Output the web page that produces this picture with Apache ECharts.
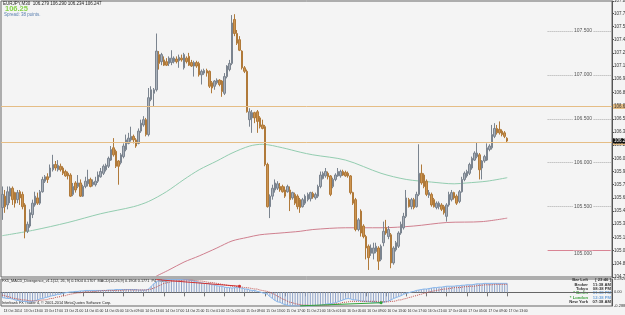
<!DOCTYPE html>
<html>
<head>
<meta charset="utf-8">
<script src="https://cdn.jsdelivr.net/npm/echarts@6/dist/echarts.min.js"></script>
<style>
html,body{margin:0;padding:0;background:#f4f4f4;}
#chart{width:625px;height:315px;}
</style>
</head>
<body>
<div id="chart"></div>
<script>
// M30 bars, one label every 8 bars
const dateLabels = ['13 Oct 2014','13 Oct 13:00','13 Oct 17:00','13 Oct 21:00','14 Oct 01:00','14 Oct 05:00',
  '14 Oct 09:00','14 Oct 13:00','14 Oct 17:00','14 Oct 21:00','15 Oct 01:00','15 Oct 05:00','15 Oct 09:00',
  '15 Oct 13:00','15 Oct 17:00','15 Oct 21:00','16 Oct 01:00','16 Oct 05:00','16 Oct 09:00','16 Oct 13:00',
  '16 Oct 17:00','16 Oct 21:00','17 Oct 01:00','17 Oct 05:00','17 Oct 09:00','17 Oct 13:00'];

// [open, close, low, high]
const candles = [
  [105.49,105.64,105.35,105.73],[105.62,105.50,105.43,105.69],[105.52,105.67,105.47,105.73],[105.62,105.71,105.54,105.73],[105.71,105.58,105.52,105.73],
  [105.66,105.54,105.49,105.67],[105.58,105.66,105.54,105.69],[105.67,105.60,105.52,105.69],[105.64,105.50,105.47,105.67],[105.52,105.22,105.14,105.54],
  [105.22,105.30,105.20,105.33],[105.28,105.43,105.26,105.47],[105.41,105.54,105.37,105.58],[105.52,105.62,105.50,105.67],[105.60,105.54,105.52,105.66],
  [105.54,105.67,105.52,105.69],[105.67,105.81,105.66,105.84],[105.79,105.84,105.77,105.86],[105.84,105.81,105.77,105.88],[105.84,105.94,105.83,105.98],
  [105.92,105.98,105.90,106.09],[105.98,105.94,105.91,106.02],[105.92,105.97,105.90,106.03],[105.96,105.92,105.90,105.99],[105.94,105.88,105.86,105.96],
  [105.90,105.85,105.84,105.92],[105.88,105.85,105.81,105.90],[105.86,105.62,105.61,105.88],[105.64,105.73,105.62,105.77],[105.77,105.69,105.66,105.79],
  [105.73,105.77,105.71,105.86],[105.77,105.62,105.61,105.81],[105.62,105.73,105.61,105.75],[105.73,105.79,105.71,105.84],[105.76,105.81,105.73,105.92],
  [105.81,105.73,105.72,105.83],[105.75,105.78,105.73,105.81],[105.75,105.79,105.73,105.84],[105.79,105.86,105.77,105.90],[105.84,105.90,105.83,105.94],
  [105.88,105.96,105.86,105.98],[105.92,105.97,105.90,105.99],[105.96,106.05,105.94,106.07],[106.03,106.15,106.02,106.19],[106.17,106.09,106.07,106.28],
  [106.13,105.96,105.94,106.15],[106.02,105.96,105.75,106.03],[106.00,106.09,105.98,106.11],[106.07,106.19,106.05,106.22],[106.15,106.26,106.13,106.32],
  [106.22,106.28,106.21,106.34],[106.26,106.30,106.24,106.41],[106.30,106.26,106.22,106.32],[106.26,106.19,106.17,106.28],[106.22,106.36,106.21,106.39],
  [106.36,106.45,106.34,106.49],[106.43,106.49,106.41,106.53],[106.49,106.32,106.30,106.51],[106.32,106.74,106.30,106.85],[106.72,106.83,106.70,106.87],
  [106.79,106.83,106.64,106.85],[106.83,107.27,106.81,107.47],[107.23,107.13,107.06,107.27],[107.15,107.23,107.11,107.25],[107.17,107.11,107.10,107.21],
  [107.15,107.11,107.10,107.19],[107.13,107.19,107.10,107.21],[107.14,107.19,107.11,107.28],[107.15,107.19,107.13,107.21],[107.18,107.15,107.13,107.21],
  [107.16,107.20,107.08,107.23],[107.19,107.17,107.15,107.23],[107.08,107.23,107.06,107.25],[107.19,107.15,107.13,107.21],[107.21,107.11,107.10,107.25],
  [107.14,107.10,107.09,107.17],[107.10,107.14,106.98,107.16],[107.14,107.10,107.08,107.16],[107.13,107.00,106.98,107.15],[107.00,107.04,106.89,107.06],
  [107.02,107.05,107.00,107.07],[107.05,107.02,106.98,107.07],[107.04,106.87,106.85,107.05],[106.91,106.85,106.79,106.93],[106.87,106.93,106.83,106.94],
  [106.91,106.94,106.89,106.96],[106.94,106.89,106.87,106.95],[106.93,106.81,106.75,106.94],[106.79,106.98,106.77,107.02],[106.98,107.10,106.96,107.11],
  [107.06,107.13,107.04,107.17],[107.13,107.59,107.11,107.68],[107.63,107.47,107.44,107.69],[107.47,107.36,107.34,107.51],[107.40,107.28,107.27,107.44],
  [107.27,107.08,107.06,107.28],[107.08,107.04,107.02,107.10],[107.04,106.58,106.57,107.06],[106.49,106.58,106.41,106.62],[106.51,106.57,106.34,106.60],
  [106.57,106.51,106.45,106.58],[106.58,106.47,106.34,106.60],[106.51,106.41,106.39,106.53],[106.43,106.39,106.38,106.49],[106.41,105.98,105.96,106.43],
  [105.98,105.50,105.49,106.00],[105.50,105.62,105.37,105.64],[105.62,105.71,105.58,105.75],[105.69,105.77,105.66,105.81],[105.71,105.76,105.69,105.79],
  [105.73,105.69,105.67,105.77],[105.73,105.67,105.66,105.75],[105.69,105.62,105.60,105.73],[105.67,105.73,105.66,105.75],[105.69,105.58,105.45,105.73],
  [105.60,105.66,105.58,105.67],[105.64,105.54,105.52,105.66],[105.62,105.50,105.47,105.64],[105.58,105.49,105.43,105.60],[105.50,105.58,105.49,105.60],
  [105.54,105.62,105.52,105.64],[105.58,105.64,105.56,105.66],[105.59,105.66,105.56,105.67],[105.65,105.61,105.59,105.67],[105.60,105.64,105.58,105.66],
  [105.62,105.73,105.60,105.75],[105.73,105.86,105.71,105.90],[105.82,105.88,105.81,105.90],[105.85,105.90,105.83,105.94],[105.88,105.84,105.81,105.90],
  [105.85,105.64,105.62,105.86],[105.73,105.81,105.71,105.83],[105.81,105.86,105.79,105.88],[105.85,105.90,105.84,105.94],[105.85,105.90,105.83,105.92],
  [105.90,105.86,105.85,105.92],[105.89,105.85,105.84,105.91],[105.88,105.85,105.83,105.90],[105.85,105.66,105.64,105.86],[105.66,105.54,105.52,105.67],
  [105.58,105.24,105.22,105.60],[105.24,105.35,105.22,105.37],[105.45,105.20,105.16,105.47],[105.28,105.16,105.14,105.30],[105.16,105.03,104.90,105.18],
  [105.05,104.92,104.78,105.07],[104.97,105.03,104.94,105.07],[104.97,105.03,104.90,105.09],[104.99,105.05,104.97,105.09],[105.03,104.88,104.78,105.05],
  [104.90,105.05,104.88,105.07],[105.09,105.22,105.05,105.33],[105.26,105.20,105.18,105.35],[105.16,105.24,105.13,105.28],[105.18,104.86,104.80,105.20],
  [104.86,105.03,104.84,105.05],[105.01,105.09,104.99,105.11],[105.05,105.20,105.03,105.22],[105.20,105.30,105.18,105.33],[105.26,105.39,105.24,105.43],
  [105.39,105.60,105.37,105.69],[105.58,105.50,105.49,105.60],[105.50,105.58,105.47,105.60],[105.58,105.49,105.47,105.60],[105.50,105.64,105.49,105.67],
  [105.64,105.88,105.62,106.21],[105.88,105.77,105.75,105.98],[105.86,105.73,105.71,105.88],[105.79,105.64,105.62,105.81],[105.63,105.66,105.60,105.69],
  [105.64,105.52,105.50,105.66],[105.58,105.50,105.49,105.60],[105.49,105.54,105.47,105.56],[105.50,105.54,105.47,105.56],[105.52,105.47,105.45,105.54],
  [105.50,105.43,105.41,105.52],[105.39,105.52,105.33,105.54],[105.52,105.64,105.50,105.67],[105.58,105.66,105.56,105.69],[105.66,105.60,105.58,105.67],
  [105.62,105.54,105.52,105.64],[105.56,105.67,105.54,105.69],[105.67,105.81,105.66,105.84],[105.81,105.88,105.79,105.90],[105.85,105.90,105.83,105.92],
  [105.88,105.98,105.86,106.00],[105.94,106.05,105.92,106.07],[106.03,106.11,106.02,106.13],[106.07,106.11,106.05,106.23],[106.09,105.92,105.81,106.11],
  [105.94,106.02,105.81,106.03],[106.02,106.07,106.00,106.09],[106.03,106.17,106.02,106.22],[106.15,106.19,106.13,106.21],[106.17,106.32,106.15,106.43],
  [106.30,106.39,106.28,106.45],[106.39,106.34,106.32,106.43],[106.38,106.34,106.32,106.47],[106.36,106.32,106.30,106.38],[106.34,106.30,106.28,106.36],
  [106.279,106.247,106.234,106.290]
];

// moving averages read at a few bar indexes
const maGreenIdx = [0,12,26,39,52,58,65,72,78,85,91,98,103,111,118,123,136,150,160,170,179,184,192,200];
const maGreen = [105.17,105.23,105.32,105.42,105.50,105.56,105.67,105.81,105.92,106.02,106.11,106.19,106.21,106.17,106.12,106.09,106.03,105.88,105.81,105.78,105.76,105.77,105.79,105.83];
const maRedIdx = [61,66,72,78,85,91,97,102,110,118,123,136,150,163,176,190,200];
const maRed = [104.71,104.78,104.87,104.94,105.03,105.11,105.15,105.18,105.20,105.22,105.24,105.26,105.26,105.28,105.32,105.33,105.37];

const macdMain = [
  -0.11,-0.12,-0.13,-0.13,-0.14,-0.16,-0.17,-0.18,-0.19,-0.19,
  -0.20,-0.20,-0.19,-0.18,-0.16,-0.14,-0.13,-0.11,-0.10,-0.08,
  -0.07,-0.06,-0.04,-0.04,-0.02,-0.01,0.00,0.01,0.01,0.02,
  0.02,0.03,0.03,0.04,0.04,0.04,0.04,0.04,0.04,0.04,
  0.04,0.04,0.05,0.05,0.05,0.06,0.06,0.06,0.06,0.06,
  0.06,0.06,0.06,0.06,0.05,0.05,0.05,0.05,0.07,0.13,
  0.18,0.22,0.25,0.26,0.27,0.27,0.27,0.27,0.27,0.27,
  0.27,0.27,0.27,0.27,0.26,0.25,0.24,0.23,0.21,0.20,
  0.19,0.19,0.18,0.16,0.16,0.14,0.13,0.13,0.11,0.10,
  0.10,0.09,0.10,0.10,0.10,0.09,0.07,0.07,0.05,0.04,
  0.04,0.02,0.01,-0.01,-0.02,-0.04,-0.09,-0.13,-0.17,-0.20,
  -0.21,-0.24,-0.26,-0.27,-0.29,-0.29,-0.29,-0.29,-0.29,-0.29,
  -0.29,-0.29,-0.29,-0.29,-0.28,-0.28,-0.27,-0.27,-0.25,-0.24,
  -0.24,-0.23,-0.22,-0.20,-0.18,-0.16,-0.14,-0.13,-0.14,-0.16,
  -0.16,-0.17,-0.18,-0.19,-0.19,-0.19,-0.20,-0.21,-0.21,-0.22,
  -0.22,-0.21,-0.20,-0.18,-0.16,-0.13,-0.11,-0.09,-0.07,-0.04,
  -0.02,-0.01,0.01,0.02,0.04,0.05,0.06,0.07,0.07,0.08,
  0.09,0.10,0.10,0.11,0.11,0.12,0.13,0.13,0.13,0.13,
  0.14,0.14,0.15,0.15,0.16,0.16,0.16,0.17,0.18,0.18,
  0.18,0.19,0.19,0.19,0.19,0.19,0.19,0.19,0.19,0.19,0.19
];
const macdSignal = [
  -0.06,-0.07,-0.09,-0.10,-0.12,-0.13,-0.14,-0.15,-0.16,-0.16,
  -0.17,-0.18,-0.18,-0.18,-0.18,-0.17,-0.16,-0.16,-0.15,-0.13,
  -0.13,-0.11,-0.10,-0.09,-0.07,-0.07,-0.05,-0.04,-0.03,-0.02,
  -0.01,-0.01,0.00,0.01,0.01,0.01,0.02,0.02,0.03,0.03,
  0.04,0.04,0.04,0.04,0.04,0.04,0.04,0.04,0.05,0.05,
  0.05,0.05,0.05,0.05,0.05,0.05,0.05,0.05,0.06,0.07,
  0.09,0.11,0.14,0.16,0.19,0.20,0.21,0.23,0.24,0.24,
  0.25,0.25,0.26,0.26,0.26,0.26,0.25,0.25,0.24,0.24,
  0.23,0.22,0.21,0.21,0.20,0.19,0.18,0.17,0.16,0.15,
  0.14,0.13,0.13,0.12,0.12,0.11,0.10,0.10,0.09,0.08,
  0.07,0.07,0.05,0.04,0.03,0.02,0.00,-0.02,-0.05,-0.08,
  -0.11,-0.14,-0.16,-0.19,-0.21,-0.22,-0.24,-0.25,-0.26,-0.27,
  -0.27,-0.27,-0.28,-0.28,-0.28,-0.28,-0.28,-0.27,-0.27,-0.27,
  -0.26,-0.25,-0.24,-0.24,-0.23,-0.21,-0.21,-0.20,-0.19,-0.19,
  -0.19,-0.19,-0.19,-0.19,-0.19,-0.19,-0.19,-0.19,-0.19,-0.20,
  -0.20,-0.20,-0.20,-0.20,-0.19,-0.19,-0.18,-0.16,-0.16,-0.14,
  -0.13,-0.11,-0.10,-0.08,-0.07,-0.05,-0.04,-0.02,-0.01,0.01,
  0.02,0.03,0.04,0.05,0.06,0.07,0.07,0.08,0.09,0.10,
  0.10,0.10,0.11,0.12,0.12,0.13,0.13,0.13,0.14,0.15,
  0.15,0.16,0.16,0.16,0.16,0.17,0.17,0.17,0.17,0.17,0.17
];

const priceLevels = [107.5, 107.0, 106.5, 106.0, 105.5, 105.0];
const hLines = [106.636, 106.227];
const bidPrice = 106.247;

const slots = 242;   // bars plus empty space on the right
const cats = Array.from({length: slots}, (_, i) => String(i));
const showLabel = idx => idx % 8 === 0 && idx / 8 < dateLabels.length;

const infoRows = [
  ['Bar Left', '[ 23:46 ]', '#333', '#333'],
  ['Broker', '11:38 AM', '#333', '#333'],
  ['Tokyo', '08:38 PM', '#333', '#333'],
  ['* Berlin', '01:38 PM', '#3aa33a', '#6fa3dc'],
  ['* London', '12:38 PM', '#3aa33a', '#6fa3dc'],
  ['New York', '07:38 AM', '#333', '#333']
];

const chart = echarts.init(document.getElementById('chart'), null, {renderer: 'canvas'});

const graphics = [
  {type: 'text', left: 3, top: 1, style: {text: 'EURJPY,M30  106.279 106.290 106.234 106.247', font: '4.5px sans-serif', fill: '#222'}},
  {type: 'text', left: 5, top: 4.5, style: {text: '106.25', font: 'bold 7.5px sans-serif', fill: '#86d44b'}},
  {type: 'text', left: 4, top: 12, style: {text: 'Spread: 38 points.', font: '4.5px sans-serif', fill: '#5a7fb0'}},
  {type: 'text', left: 2, top: 279, style: {text: 'FX5_MACD_Divergence_v1.1(12, 26, 9) 0.1904 0.1707  MACD(12,26,9) 0.1904 0.1771  P4, Close', font: '3.8px sans-serif', fill: '#222'}},
  {type: 'text', left: 2, top: 301, style: {text: 'Interbank FX Trader 4, \u00a9 2001-2014 MetaQuotes Software Corp.', font: '3.8px sans-serif', fill: '#222'}}
];
infoRows.forEach((r, k) => {
  graphics.push({type: 'text', right: 37, top: 278 + k * 4.4, style: {text: r[0], font: 'bold 4.2px sans-serif', fill: r[2]}});
  graphics.push({type: 'text', right: 14, top: 278 + k * 4.4, style: {text: r[1], font: 'bold 4.2px sans-serif', fill: r[3]}});
});

const option = {
  animation: false,
  backgroundColor: '#f4f4f4',
  grid: [
    {left: 1, right: 13, top: 1, height: 276, show: true, borderColor: '#666', borderWidth: 1, backgroundColor: 'transparent', containLabel: false, outerBoundsMode: 'none'},
    {left: 1, right: 13, top: 279, height: 27, show: true, borderColor: '#666', borderWidth: 1, backgroundColor: 'transparent', containLabel: false, outerBoundsMode: 'none'}
  ],
  xAxis: [
    {type: 'category', gridIndex: 0, data: cats, boundaryGap: true,
     axisLine: {show: false}, axisTick: {show: false}, axisLabel: {show: false}, splitLine: {show: false}},
    {type: 'category', gridIndex: 1, data: cats, boundaryGap: true,
     axisLine: {show: true, lineStyle: {color: '#666'}},
     axisTick: {show: true, interval: showLabel, length: 4, alignWithLabel: true, lineStyle: {color: '#777'}},
     axisLabel: {show: true, interval: showLabel, formatter: (v, idx) => dateLabels[idx / 8] || '',
       fontSize: 3.3, color: '#222', align: 'left', margin: 3.5, padding: [0, 0, 0, 1.5], fontFamily: 'sans-serif', hideOverlap: false},
     splitLine: {show: false}}
  ],
  yAxis: [
    {type: 'value', gridIndex: 0, position: 'right', min: 104.70, max: 107.84, interval: 0.15, scale: true,
     axisLine: {show: true, lineStyle: {color: '#555'}},
     axisTick: {show: true, length: 2, lineStyle: {color: '#555'}},
     axisLabel: {fontSize: 4.5, color: '#333', margin: 2, formatter: v => v.toFixed(3)},
     splitLine: {show: false}},
    {type: 'value', gridIndex: 1, position: 'right', min: -0.2888, max: 0.2826,
     axisLine: {show: true, lineStyle: {color: '#555'}},
     axisTick: {show: false},
     axisLabel: {fontSize: 4, color: '#333', margin: 2, showMinLabel: true, showMaxLabel: true,
       formatter: v => (v === 0 ? '0.00' : (v <= -0.28 || v >= 0.28 ? v.toFixed(4) : ''))},
     splitLine: {show: false}}
  ],
  graphic: graphics,
  series: [
    {name: 'MA slow', type: 'line', xAxisIndex: 0, yAxisIndex: 0, smooth: 0.3, symbol: 'none',
     lineStyle: {color: '#cf7f8e', width: 1}, data: maRedIdx.map((d, k) => [String(d), maRed[k]]), z: 2},
    {name: 'MA fast', type: 'line', xAxisIndex: 0, yAxisIndex: 0, smooth: 0.3, symbol: 'none',
     lineStyle: {color: '#93cdb0', width: 1}, data: maGreenIdx.map((d, k) => [String(d), maGreen[k]]), z: 2},
    {name: 'price', type: 'candlestick', xAxisIndex: 0, yAxisIndex: 0, barWidth: 2, z: 3,
     itemStyle: {color: '#a9b0b9', color0: '#cd9450', borderColor: '#7b848f', borderColor0: '#b07a3a', borderWidth: 1},
     data: candles,
     markLine: {
       silent: true, symbol: ['none', 'none'], animation: false,
       data: [
         {yAxis: hLines[0], lineStyle: {color: '#e5bd85', width: 1, type: 'solid'},
          label: {show: true, position: 'end', distance: 1, formatter: hLines[0].toFixed(3), fontSize: 4.5, color: '#333', backgroundColor: '#e5bd85', padding: [0, 1]}},
         {yAxis: hLines[1], lineStyle: {color: '#e5bd85', width: 1, type: 'solid'},
          label: {show: true, position: 'end', distance: 1, formatter: hLines[1].toFixed(3), fontSize: 4.5, color: '#333', backgroundColor: '#e5bd85', padding: [0, 1]}},
         {yAxis: bidPrice, lineStyle: {color: '#f4f4f4', width: 0},
          label: {show: true, position: 'end', distance: 1, formatter: bidPrice.toFixed(3), fontSize: 4.5, color: '#fff', backgroundColor: '#111', padding: [0, 1]}}
       ].concat(priceLevels.map(v => [
         {coord: ['216', v], lineStyle: {color: v === 105.0 ? '#d98494' : '#aaa', width: 1, type: v === 105.0 ? 'solid' : 'dotted'}, label: {show: false}},
         {coord: [String(slots - 1), v]}
       ]))
     },
     markPoint: {
       silent: true, symbol: 'rect', symbolSize: [1, 1], itemStyle: {color: 'rgba(0,0,0,0)'},
       data: priceLevels.map(v => ({coord: ['230', v + (v === 105.0 ? -0.03 : 0)], value: v})),
       label: {show: true, position: 'inside', formatter: p => p.value.toFixed(3), fontSize: 5, color: '#555', backgroundColor: '#f4f4f4', padding: [0, 1]}
     }},
    {name: 'MACD hist', type: 'bar', xAxisIndex: 1, yAxisIndex: 1, barWidth: 1,
     itemStyle: {color: '#8ea3c9'}, data: macdMain},
    {name: 'MACD', type: 'line', xAxisIndex: 1, yAxisIndex: 1, symbol: 'none',
     lineStyle: {color: '#86b6ec', width: 1}, data: macdMain,
     markLine: {
       silent: true, symbol: ['none', 'circle'], symbolSize: 3, label: {show: false},
       data: [
         [{coord: ['61', 0.27], lineStyle: {color: '#d03030', width: 1, type: 'solid'}, itemStyle: {color: '#d03030'}}, {coord: ['94', 0.13]}],
         [{coord: ['118', -0.285], lineStyle: {color: '#2fa33a', width: 1, type: 'solid'}, itemStyle: {color: '#2fa33a'}}, {coord: ['150', -0.22]}]
       ]
     }},
    {name: 'Signal', type: 'line', xAxisIndex: 1, yAxisIndex: 1, symbol: 'none',
     lineStyle: {color: '#c0504d', width: 1, type: 'dotted'}, data: macdSignal}
  ]
};
chart.setOption(option);
</script>
</body>
</html>
